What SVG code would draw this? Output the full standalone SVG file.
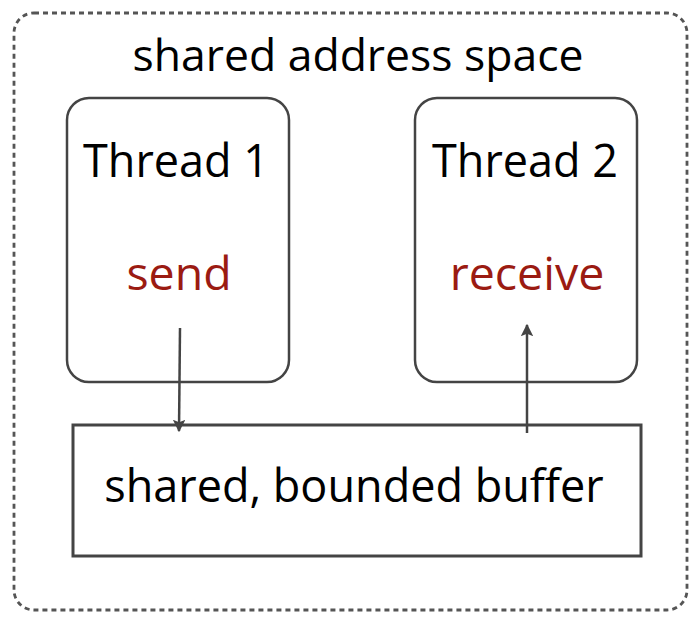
<svg xmlns="http://www.w3.org/2000/svg" width="700" height="624" viewBox="0 0 700 624">
<style>
text{font-family:"Open Sans","DejaVu Sans",sans-serif;text-anchor:middle;fill:#000}
.red{fill:#9b1b12}
.box{fill:none;stroke:#444;stroke-width:2.5}
.conn{stroke:#444;stroke-width:2.5;fill:none}
</style>
<defs>
<marker id="ah" viewBox="0 0 10 10" refX="9" refY="5" markerWidth="5" markerHeight="5" orient="auto-start-reverse" markerUnits="strokeWidth">
<path d="M0,0 L10,5 L0,10 L2,5 z" fill="#444"/>
</marker>
</defs>
<g id="outer">
<rect x="14" y="13" width="673" height="597" rx="20" fill="none" stroke="#555" stroke-width="2.8" stroke-dasharray="5,4"/>
<text x="358" y="71" font-size="44.5">shared address space</text>
</g>
<g id="thread1">
<rect class="box" x="67" y="98" width="222" height="284" rx="22"/>
<text x="176" y="177" font-size="45">Thread 1</text>
<text class="red" x="179" y="290" font-size="46.5">send</text>
</g>
<g id="thread2">
<rect class="box" x="415" y="98" width="222" height="284" rx="22"/>
<text x="525" y="177" font-size="45">Thread 2</text>
<text class="red" x="527" y="290" font-size="46.5">receive</text>
</g>
<g id="buffer">
<rect x="73" y="425" width="568" height="131" fill="none" stroke="#444" stroke-width="3"/>
<text x="354" y="502" font-size="45">shared, bounded buffer</text>
</g>
<g id="connectors">
<line class="conn" x1="180" y1="328" x2="179" y2="431" marker-end="url(#ah)"/>
<line class="conn" x1="527" y1="433" x2="527" y2="325" marker-end="url(#ah)"/>
</g>
</svg>
